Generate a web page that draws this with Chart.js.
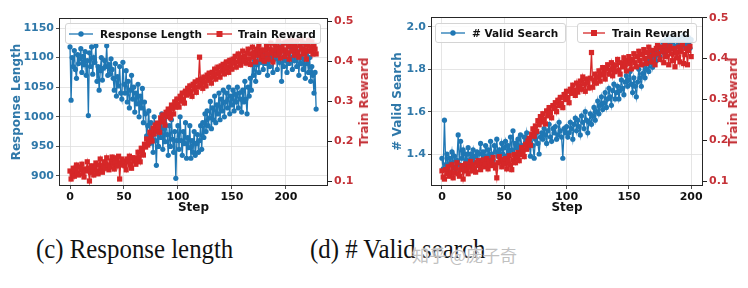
<!DOCTYPE html>
<html><head><meta charset="utf-8">
<script src="https://cdn.jsdelivr.net/npm/chart.js@4.4.1/dist/chart.umd.min.js"></script>
<style>
html,body{margin:0;padding:0;background:#fff;}
body{width:748px;height:288px;position:relative;overflow:hidden;font-family:"DejaVu Sans";}
canvas{position:absolute;top:0;}
.legend{position:absolute;background:rgba(255,255,255,0.85);border:1px solid #d4d4d4;border-radius:3px;box-sizing:border-box;font:bold 10.5px "DejaVu Sans";color:#111;z-index:2;}
.legend svg{position:absolute;top:50%;transform:translateY(-50%);}
.legend span{position:absolute;top:50%;transform:translateY(-50%);white-space:nowrap;line-height:1;}
.caption{position:absolute;font-family:"Liberation Serif";font-size:27px;line-height:1;color:#111;white-space:nowrap;transform:scaleX(0.92);transform-origin:0 0;}
.rtitle{position:absolute;font:bold 12px "DejaVu Sans";color:#c53238;white-space:nowrap;line-height:1;transform:translate(-50%,-50%) rotate(-90deg);}
.wm{position:absolute;font-family:"Noto Sans CJK SC";font-size:17px;line-height:1;color:rgba(185,185,185,0.9);white-space:nowrap;text-shadow:0 0 2px #fff,0 0 1px #fff;z-index:3;}
</style>
</head><body>
<canvas id="c1" width="380" height="218" style="left:0;width:380px;height:218px"></canvas>
<canvas id="c2" width="368" height="218" style="left:380px;width:368px;height:218px"></canvas>

<div class="rtitle" style="left:364px;top:102px">Train Reward</div>
<div class="rtitle" style="left:733px;top:102px">Train Reward</div>

<div class="legend" style="left:65px;top:23px;width:256px;height:21px">
  <svg width="24" height="8" style="left:3px"><line x1="0" y1="4" x2="24" y2="4" stroke="#1f77b4" stroke-width="1.3"/><circle cx="12" cy="4" r="2.7" fill="#1f77b4"/></svg>
  <span style="left:34px">Response Length</span>
  <svg width="25" height="8" style="left:141px"><line x1="0" y1="4" x2="25" y2="4" stroke="#d62728" stroke-width="1.3"/><rect x="9.5" y="1" width="6" height="6" fill="#d62728"/></svg>
  <span style="left:172px">Train Reward</span>
</div>
<div class="legend" style="left:435px;top:23px;width:131px;height:20px">
  <svg width="24" height="8" style="left:5px"><line x1="0" y1="4" x2="24" y2="4" stroke="#1f77b4" stroke-width="1.3"/><circle cx="12" cy="4" r="2.7" fill="#1f77b4"/></svg>
  <span style="left:36px"># Valid Search</span>
</div>
<div class="legend" style="left:577px;top:23px;width:120px;height:20px">
  <svg width="22" height="8" style="left:5px"><line x1="0" y1="4" x2="22" y2="4" stroke="#d62728" stroke-width="1.3"/><rect x="8" y="1" width="6" height="6" fill="#d62728"/></svg>
  <span style="left:34px">Train Reward</span>
</div>

<div class="caption" style="left:36px;top:236px">(c) Response length</div>
<div class="caption" style="left:310px;top:236px">(d) # Valid search</div>
<div class="wm" style="left:412px;top:246px">知乎 @庞子奇</div>

<script>
// ---------- DATA ----------
const xTicks = [0, 50, 100, 150, 200];

// (c) Response length panel
const lenTicks = [900, 950, 1000, 1050, 1100, 1150];
const rewardTicks = [0.1, 0.2, 0.3, 0.4, 0.5];
const responseLength = [
1118,1028,1100,1085,1112,1080,1065,1105,1090,1098,
1115,1075,1102,1088,1110,1070,1095,1002,1108,1085,
1118,1072,1100,1092,1120,1060,1085,1045,1078,1100,
1062,1082,1095,1085,1120,1070,1088,1072,1098,1080,
1065,1045,1090,1035,1068,1052,1085,1040,1030,1092,
1055,1040,1078,1025,1060,1015,1045,1070,1030,1050,
1008,1040,1022,1055,1000,1035,1015,1048,990,1025,
1005,968,985,1010,955,990,970,940,1000,960,
918,975,950,990,965,1005,945,980,958,1000,
970,935,985,950,995,962,940,975,896,960,
985,945,1000,960,935,975,955,990,930,965,
948,985,930,960,940,975,935,955,970,940,
960,985,945,990,965,1005,975,1010,985,998,
1026,980,1015,995,1035,990,1020,1005,1040,995,
1030,1010,1045,1000,1025,1040,1015,1050,1005,1035,
1020,1045,1010,1038,1025,1050,1015,1040,1030,1008,
1045,1025,1060,1030,1005,1050,1035,1065,1045,1088,
1070,1095,1060,1088,1105,1075,1110,1092,1100,1080,
1105,1090,1115,1070,1100,1085,1112,1095,1075,1108,
1098,1115,1080,1105,1092,1118,1060,1100,1085,1110,
1095,1075,1108,1090,1118,1100,1080,1112,1095,1105,
1085,1110,1070,1102,1090,1115,1080,1098,1065,1105,
1090,1075,1100,1060,1085,1070,1040,1075,1013
];
const trainRewardC = [
0.125,0.105,0.118,0.132,0.112,0.128,0.140,0.120,0.115,0.135,
0.128,0.142,0.118,0.110,0.130,0.125,0.148,0.132,0.100,0.122,
0.138,0.128,0.115,0.135,0.145,0.125,0.118,0.140,0.155,0.130,
0.122,0.138,0.148,0.132,0.158,0.140,0.128,0.135,0.150,0.160,
0.142,0.130,0.148,0.158,0.138,0.162,0.105,0.145,0.155,0.140,
0.150,0.138,0.128,0.155,0.148,0.162,0.140,0.132,0.158,0.150,
0.158,0.142,0.150,0.172,0.160,0.148,0.182,0.175,0.165,0.192,
0.185,0.205,0.190,0.198,0.222,0.210,0.200,0.232,0.218,0.240,
0.228,0.245,0.236,0.222,0.258,0.248,0.265,0.250,0.240,0.272,
0.262,0.280,0.270,0.258,0.290,0.282,0.268,0.298,0.285,0.305,
0.292,0.285,0.312,0.300,0.320,0.305,0.295,0.325,0.315,0.332,
0.318,0.338,0.325,0.312,0.342,0.330,0.348,0.322,0.335,0.352,
0.410,0.340,0.355,0.332,0.360,0.348,0.338,0.365,0.352,0.370,
0.358,0.345,0.372,0.362,0.380,0.355,0.368,0.385,0.372,0.360,
0.388,0.375,0.392,0.368,0.380,0.398,0.385,0.372,0.402,0.390,
0.380,0.405,0.395,0.412,0.385,0.398,0.418,0.402,0.390,0.410,
0.425,0.400,0.412,0.395,0.420,0.430,0.405,0.392,0.418,0.435,
0.410,0.422,0.398,0.430,0.415,0.440,0.420,0.405,0.428,0.412,
0.400,0.425,0.438,0.418,0.405,0.430,0.445,0.420,0.398,0.428,
0.440,0.415,0.430,0.450,0.422,0.408,0.435,0.425,0.445,0.412,
0.428,0.448,0.420,0.405,0.438,0.452,0.425,0.440,0.415,0.432,
0.450,0.422,0.410,0.438,0.455,0.430,0.418,0.445,0.428,0.405,
0.440,0.452,0.425,0.435,0.448,0.418,0.440,0.430,0.418
];

// (d) # Valid search panel
const searchTicks = [1.4, 1.6, 1.8, 2.0];
const validSearch = [
1.38,1.33,1.56,1.35,1.40,1.32,1.38,1.36,1.41,1.34,
1.39,1.33,1.37,1.49,1.35,1.46,1.38,1.42,1.34,1.40,
1.37,1.43,1.35,1.40,1.38,1.42,1.36,1.39,1.41,1.35,
1.40,1.45,1.37,1.41,1.39,1.44,1.36,1.42,1.38,1.46,
1.40,1.37,1.44,1.41,1.47,1.39,1.42,1.38,1.45,1.40,
1.43,1.46,1.39,1.44,1.41,1.48,1.42,1.51,1.40,1.45,
1.43,1.47,1.41,1.49,1.44,1.42,1.48,1.45,1.50,1.43,
1.46,1.39,1.48,1.44,1.38,1.47,1.50,1.45,1.40,1.48,
1.50,1.47,1.52,1.49,1.45,1.51,1.54,1.48,1.46,1.52,
1.50,1.53,1.47,1.49,1.55,1.51,1.48,1.38,1.52,1.50,
1.53,1.48,1.50,1.55,1.52,1.47,1.54,1.57,1.51,1.56,
1.53,1.49,1.58,1.55,1.52,1.60,1.56,1.50,1.55,1.59,
1.54,1.58,1.62,1.56,1.60,1.65,1.59,1.63,1.67,1.61,
1.64,1.69,1.62,1.66,1.71,1.67,1.63,1.70,1.73,1.66,
1.69,1.72,1.66,1.70,1.75,1.71,1.68,1.74,1.77,1.72,
1.75,1.79,1.73,1.69,1.76,1.72,1.67,1.74,1.80,1.76,
1.72,1.78,1.82,1.76,1.80,1.85,1.79,1.83,1.88,1.81,
1.85,1.89,1.84,1.87,1.91,1.86,1.90,1.93,1.88,1.91,
1.94,1.89,1.92,1.95,1.90,1.93,1.96,1.91,1.88,1.94,
1.92,1.95,1.90,1.93,1.96,1.91,1.94,1.92,1.95,1.90,
1.94
];
const trainRewardD = [
0.125,0.110,0.105,0.128,0.118,0.135,0.112,0.122,0.140,0.108,
0.120,0.132,0.145,0.118,0.112,0.128,0.138,0.105,0.125,0.142,
0.130,0.118,0.135,0.148,0.125,0.140,0.132,0.122,0.145,0.150,
0.138,0.128,0.145,0.152,0.135,0.142,0.155,0.130,0.148,0.138,
0.150,0.158,0.140,0.132,0.108,0.145,0.160,0.148,0.135,0.152,
0.142,0.155,0.130,0.148,0.162,0.140,0.128,0.152,0.165,0.145,
0.158,0.170,0.150,0.165,0.182,0.172,0.160,0.190,0.178,0.198,
0.205,0.188,0.215,0.228,0.210,0.235,0.222,0.248,0.238,0.258,
0.245,0.265,0.252,0.240,0.272,0.260,0.280,0.268,0.255,0.285,
0.278,0.292,0.270,0.298,0.285,0.305,0.290,0.280,0.312,0.300,
0.320,0.305,0.292,0.325,0.315,0.335,0.322,0.310,0.340,0.318,
0.330,0.345,0.325,0.355,0.338,0.320,0.350,0.340,0.328,0.352,
0.415,0.330,0.348,0.362,0.340,0.355,0.370,0.345,0.360,0.378,
0.365,0.350,0.375,0.385,0.362,0.372,0.390,0.358,0.380,0.368,
0.385,0.398,0.372,0.362,0.390,0.380,0.402,0.385,0.370,0.395,
0.405,0.388,0.375,0.398,0.412,0.390,0.380,0.405,0.418,0.395,
0.385,0.410,0.422,0.400,0.388,0.415,0.428,0.405,0.392,0.420,
0.410,0.385,0.425,0.435,0.412,0.398,0.428,0.418,0.390,0.432,
0.405,0.420,0.385,0.430,0.412,0.395,0.425,0.380,0.415,0.402,
0.428,0.392,0.418,0.435,0.388,0.410,0.425,0.385,0.420,0.430,
0.405
];

// ---------- STYLE ----------
const BLUE = '#1f77b4', RED = '#d62728';
const BLUE_TXT = '#2f78a9', RED_TXT = '#c53238';
const FONT = 'DejaVu Sans';

Chart.defaults.font.family = FONT;

const framePlugin = {
  id: 'frame',
  afterDatasetsDraw(chart) {
    const {ctx, chartArea: a} = chart;
    ctx.save();
    ctx.strokeStyle = '#262626';
    ctx.lineWidth = 1;
    ctx.strokeRect(Math.round(a.left) + 0.5, Math.round(a.top) + 0.5,
                   Math.round(a.right - a.left) - 1, Math.round(a.bottom - a.top) - 1);
    ctx.restore();
  }
};

function toPts(arr) { return arr.map((v, i) => ({x: i, y: v})); }
function fixTicks(list) { return s => { s.ticks = list.map(v => ({value: v})); }; }

function makeChart(id, o) {
  return new Chart(document.getElementById(id), {
    type: 'line',
    data: {
      datasets: [
        {data: toPts(o.left), yAxisID: 'y', borderColor: BLUE, backgroundColor: BLUE,
         borderWidth: 1.3, pointRadius: 2.6, pointStyle: 'circle', pointBorderWidth: 0, order: 2},
        {data: toPts(o.right), yAxisID: 'y1', borderColor: RED, backgroundColor: RED,
         borderWidth: 1.3, pointRadius: 3.7, pointStyle: 'rect', pointBorderWidth: 0, order: 1}
      ]
    },
    options: {
      responsive: false, animation: false, devicePixelRatio: 1,
      layout: {padding: {top: o.top, left: 0, right: 0, bottom: 0}, autoPadding: false},
      plugins: {legend: {display: false}, tooltip: {enabled: false}},
      scales: {
        x: {
          type: 'linear', min: o.xMin, max: o.xMax,
          afterBuildTicks: fixTicks(xTicks),
          afterFit: s => { s.height = 32; },
          ticks: {color: '#111', font: {size: 11, weight: 'bold'}, padding: 2, maxRotation: 0},
          grid: {color: '#dedede', lineWidth: 0.8, tickLength: 3, tickColor: '#222'},
          border: {display: false},
          title: {display: true, text: 'Step', color: '#111', font: {size: 12, weight: 'bold'}, padding: {top: 0, bottom: 3}}
        },
        y: {
          position: 'left', min: o.yMin, max: o.yMax,
          afterBuildTicks: fixTicks(o.yTicks),
          afterFit: s => { s.width = o.yWidth; },
          ticks: {color: BLUE_TXT, font: {size: 11, weight: 'bold'}, padding: 2,
                  callback: o.yFmt},
          grid: {color: '#dedede', lineWidth: 0.8, tickLength: 3, tickColor: '#222'},
          border: {display: false},
          title: {display: true, text: o.yTitle, color: BLUE_TXT, font: {size: 12, weight: 'bold'}, padding: {top: o.yTitlePad, bottom: 0}}
        },
        y1: {
          position: 'right', min: o.y1Min, max: o.y1Max,
          afterBuildTicks: fixTicks(rewardTicks),
          afterFit: s => { s.width = o.y1Width; },
          ticks: {color: RED_TXT, font: {size: 11, weight: 'bold'}, padding: 2,
                  callback: v => v.toFixed(1)},
          grid: {drawOnChartArea: false, tickLength: 4, tickColor: '#222'},
          border: {display: false},
          title: {display: false}
        }
      }
    },
    plugins: [framePlugin]
  });
}

makeChart('c1', {
  left: responseLength, right: trainRewardC, top: 18,
  xMin: -10.2, xMax: 239,
  yMin: 883.1, yMax: 1166.9, yTicks: lenTicks, yWidth: 59, yTitle: 'Response Length', yTitlePad: 10,
  yFmt: v => String(v),
  y1Min: 0.0875, y1Max: 0.508, y1Width: 52
});
makeChart('c2', {
  left: validSearch, right: trainRewardD, top: 17,
  xMin: -8.8, xMax: 209.5,
  yMin: 1.249, yMax: 2.047, yTicks: searchTicks, yWidth: 51, yTitle: '# Valid Search', yTitlePad: 11,
  yFmt: v => v.toFixed(1),
  y1Min: 0.088, y1Max: 0.502, y1Width: 45
});
</script>
</body></html>
